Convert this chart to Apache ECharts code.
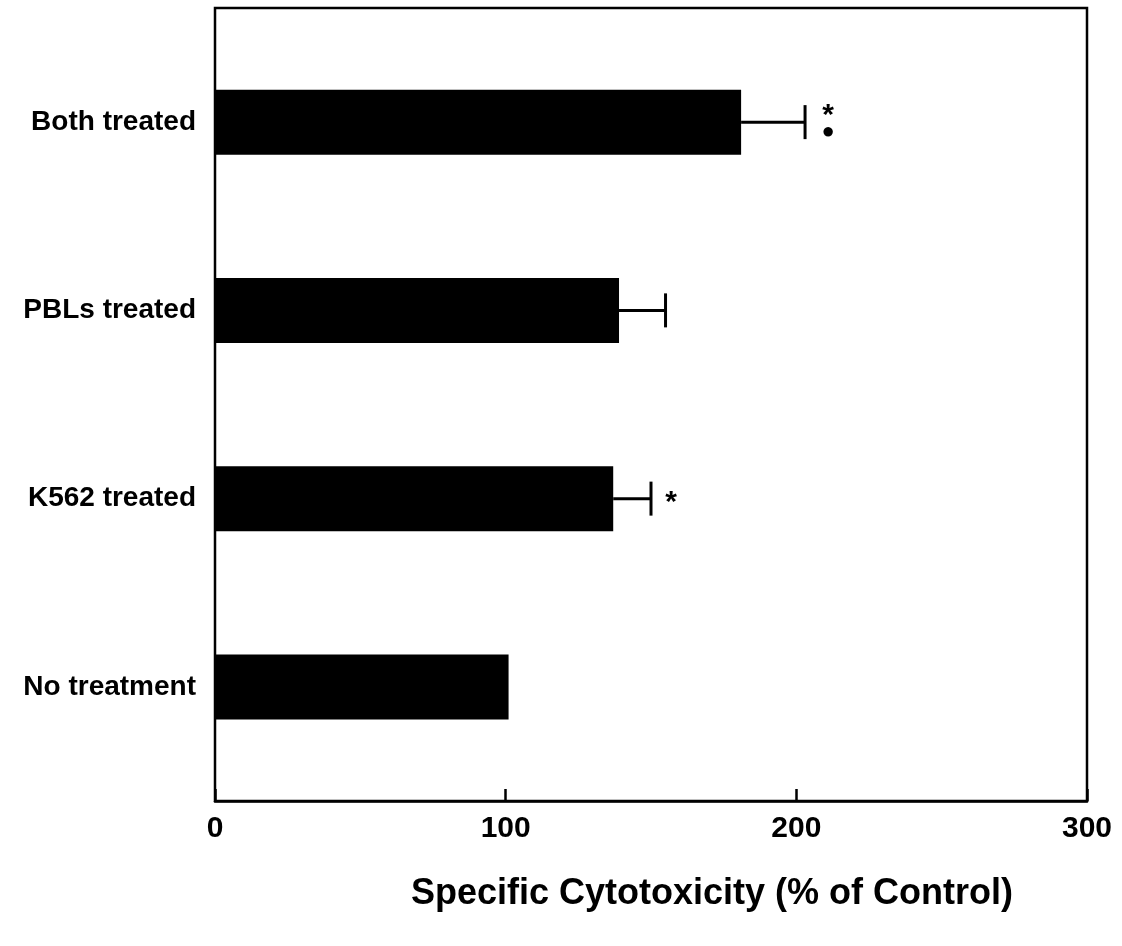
<!DOCTYPE html>
<html>
<head>
<meta charset="utf-8">
<script src="https://cdn.jsdelivr.net/npm/echarts@6/dist/echarts.min.js"></script>
<style>html,body{margin:0;padding:0;background:#fff}#c{width:1122px;height:946px}</style>
</head>
<body>
<div id="c"></div>
<script>
var categories = ['No treatment', 'K562 treated', 'PBLs treated', 'Both treated'];
var means = [101, 137, 139, 181];
var errUpper = [101, 150, 155, 203];
var marks = ['', '*', '', '*\n●'];
var xTicks = [0, 100, 200, 300];
var xTitle = 'Specific Cytotoxicity (% of Control)';

var FONT = '"Liberation Sans", Arial, sans-serif';
var chart = echarts.init(document.getElementById('c'), null, {renderer: 'canvas'});

var errData = categories.map(function (c, i) { return [i, means[i], errUpper[i], marks[i]]; });

chart.setOption({
  backgroundColor: '#fff',
  animation: false,
  title: {text: xTitle, left: 707, top: 871, textAlign: 'center',
    textStyle: {color: '#000', fontFamily: FONT, fontWeight: 'bold', fontSize: 36}},
  grid: [
    {left: 215, top: 8, width: 872, height: 793, show: true, borderColor: '#000', borderWidth: 2.5, backgroundColor: 'transparent'},
    {left: 215, top: 28, width: 872, height: 753}
  ],
  xAxis: [
    {gridIndex: 0, type: 'value', min: xTicks[0], max: xTicks[xTicks.length - 1], interval: 100,
      splitLine: {show: false},
      axisLine: {show: true, lineStyle: {color: '#000', width: 2.5}},
      axisTick: {show: true, inside: true, length: 12, lineStyle: {color: '#000', width: 2.5}},
      axisLabel: {color: '#000', fontFamily: FONT, fontWeight: 'bold', fontSize: 30, margin: 13}},
    {gridIndex: 1, type: 'value', min: 0, max: 300, show: false}
  ],
  yAxis: [
    {gridIndex: 0, type: 'value', min: 0, max: 1, show: false},
    {gridIndex: 1, type: 'category', data: categories,
      axisLine: {show: false}, axisTick: {show: false}, splitLine: {show: false},
      axisLabel: {color: '#000', fontFamily: FONT, fontWeight: 'bold', fontSize: 28, margin: 19}}
  ],
  series: [
    {type: 'bar', xAxisIndex: 1, yAxisIndex: 1, data: means, barWidth: 65,
      itemStyle: {color: '#000'}},
    {type: 'custom', xAxisIndex: 1, yAxisIndex: 1, data: errData,
      renderItem: function (params, api) {
        var i = api.value(0);
        var p0 = api.coord([api.value(1), i]);
        var p1 = api.coord([api.value(2), i]);
        var children = [];
        if (api.value(2) > api.value(1)) {
          children.push({type: 'line', shape: {x1: p0[0], y1: p0[1], x2: p1[0], y2: p1[1]},
            style: {stroke: '#000', lineWidth: 3}});
          children.push({type: 'line', shape: {x1: p1[0], y1: p1[1] - 17, x2: p1[0], y2: p1[1] + 17},
            style: {stroke: '#000', lineWidth: 3}});
        }
        var m = marks[i];
        if (m) {
          var lines = m.split('\n');
          if (lines.length === 1) {
            children.push({type: 'text', x: p1[0] + 20, y: p1[1] + 4,
              style: {text: lines[0], fill: '#000', font: 'bold 30px ' + FONT, align: 'center', verticalAlign: 'middle'}});
          } else {
            children.push({type: 'text', x: p1[0] + 23, y: p1[1] - 6,
              style: {text: lines[0], fill: '#000', font: 'bold 30px ' + FONT, align: 'center', verticalAlign: 'middle'}});
            children.push({type: 'text', x: p1[0] + 23, y: p1[1] + 10,
              style: {text: lines[1], fill: '#000', font: 'bold 22px ' + FONT, align: 'center', verticalAlign: 'middle'}});
          }
        }
        return {type: 'group', children: children};
      }}
  ]
});
</script>
</body>
</html>
